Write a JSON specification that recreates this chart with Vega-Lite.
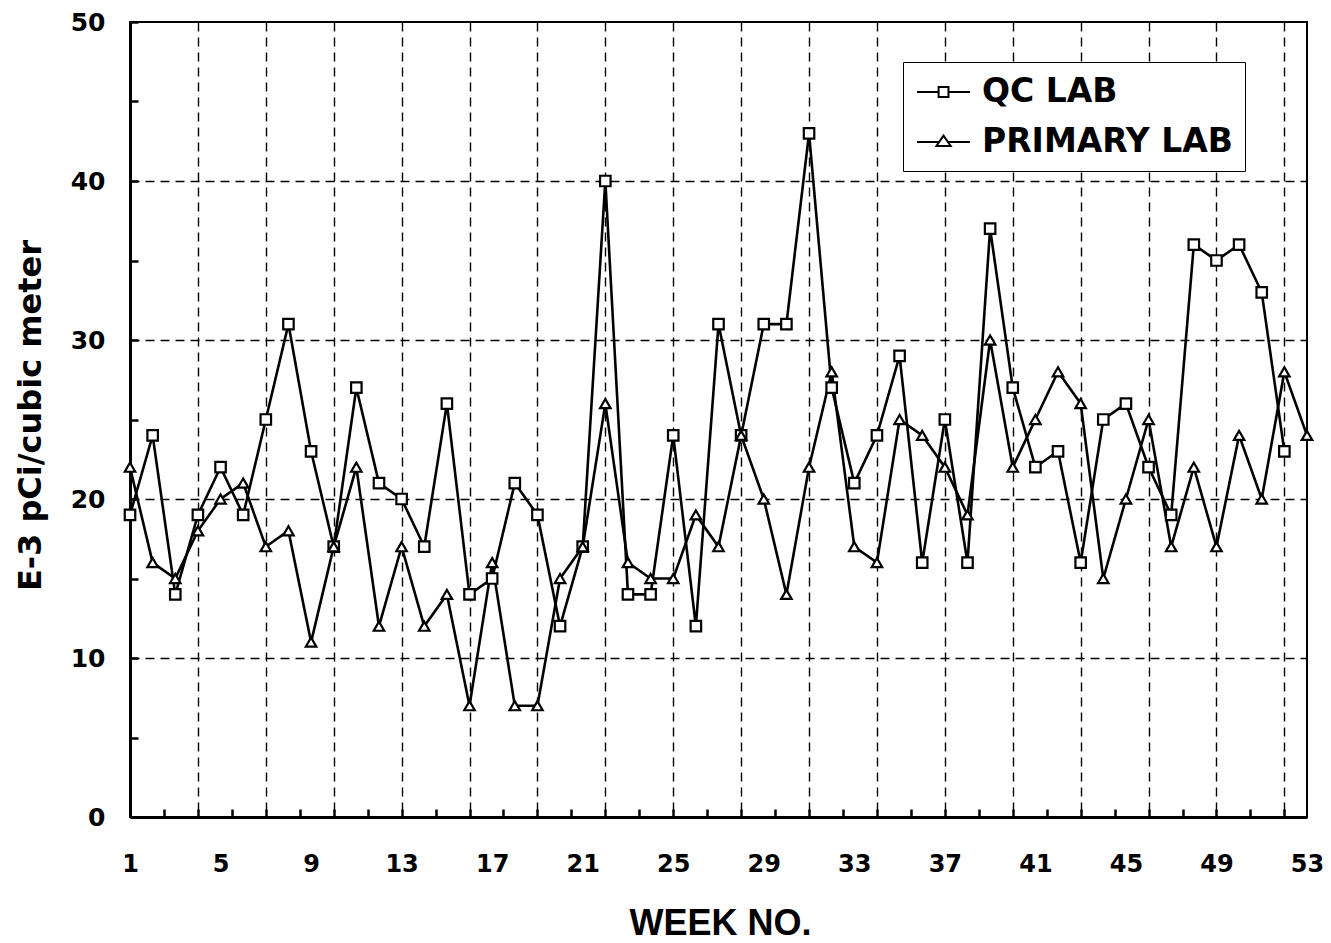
{
  "$schema": "https://vega.github.io/schema/vega-lite/v6.json",
  "width": 1177,
  "height": 795,
  "autosize": "none",
  "padding": {"left": 130, "top": 22, "right": 24, "bottom": 126},
  "background": "white",
  "data": {"values": [
    {"week":1,"lab":"QC LAB","value":19},{"week":2,"lab":"QC LAB","value":24},{"week":3,"lab":"QC LAB","value":14},{"week":4,"lab":"QC LAB","value":19},{"week":5,"lab":"QC LAB","value":22},{"week":6,"lab":"QC LAB","value":19},{"week":7,"lab":"QC LAB","value":25},{"week":8,"lab":"QC LAB","value":31},{"week":9,"lab":"QC LAB","value":23},{"week":10,"lab":"QC LAB","value":17},
    {"week":11,"lab":"QC LAB","value":27},{"week":12,"lab":"QC LAB","value":21},{"week":13,"lab":"QC LAB","value":20},{"week":14,"lab":"QC LAB","value":17},{"week":15,"lab":"QC LAB","value":26},{"week":16,"lab":"QC LAB","value":14},{"week":17,"lab":"QC LAB","value":15},{"week":18,"lab":"QC LAB","value":21},{"week":19,"lab":"QC LAB","value":19},{"week":20,"lab":"QC LAB","value":12},
    {"week":21,"lab":"QC LAB","value":17},{"week":22,"lab":"QC LAB","value":40},{"week":23,"lab":"QC LAB","value":14},{"week":24,"lab":"QC LAB","value":14},{"week":25,"lab":"QC LAB","value":24},{"week":26,"lab":"QC LAB","value":12},{"week":27,"lab":"QC LAB","value":31},{"week":28,"lab":"QC LAB","value":24},{"week":29,"lab":"QC LAB","value":31},{"week":30,"lab":"QC LAB","value":31},
    {"week":31,"lab":"QC LAB","value":43},{"week":32,"lab":"QC LAB","value":27},{"week":33,"lab":"QC LAB","value":21},{"week":34,"lab":"QC LAB","value":24},{"week":35,"lab":"QC LAB","value":29},{"week":36,"lab":"QC LAB","value":16},{"week":37,"lab":"QC LAB","value":25},{"week":38,"lab":"QC LAB","value":16},{"week":39,"lab":"QC LAB","value":37},{"week":40,"lab":"QC LAB","value":27},
    {"week":41,"lab":"QC LAB","value":22},{"week":42,"lab":"QC LAB","value":23},{"week":43,"lab":"QC LAB","value":16},{"week":44,"lab":"QC LAB","value":25},{"week":45,"lab":"QC LAB","value":26},{"week":46,"lab":"QC LAB","value":22},{"week":47,"lab":"QC LAB","value":19},{"week":48,"lab":"QC LAB","value":36},{"week":49,"lab":"QC LAB","value":35},{"week":50,"lab":"QC LAB","value":36},
    {"week":51,"lab":"QC LAB","value":33},{"week":52,"lab":"QC LAB","value":23},
    {"week":1,"lab":"PRIMARY LAB","value":22},{"week":2,"lab":"PRIMARY LAB","value":16},{"week":3,"lab":"PRIMARY LAB","value":15},{"week":4,"lab":"PRIMARY LAB","value":18},{"week":5,"lab":"PRIMARY LAB","value":20},{"week":6,"lab":"PRIMARY LAB","value":21},{"week":7,"lab":"PRIMARY LAB","value":17},{"week":8,"lab":"PRIMARY LAB","value":18},{"week":9,"lab":"PRIMARY LAB","value":11},{"week":10,"lab":"PRIMARY LAB","value":17},
    {"week":11,"lab":"PRIMARY LAB","value":22},{"week":12,"lab":"PRIMARY LAB","value":12},{"week":13,"lab":"PRIMARY LAB","value":17},{"week":14,"lab":"PRIMARY LAB","value":12},{"week":15,"lab":"PRIMARY LAB","value":14},{"week":16,"lab":"PRIMARY LAB","value":7},{"week":17,"lab":"PRIMARY LAB","value":16},{"week":18,"lab":"PRIMARY LAB","value":7},{"week":19,"lab":"PRIMARY LAB","value":7},{"week":20,"lab":"PRIMARY LAB","value":15},
    {"week":21,"lab":"PRIMARY LAB","value":17},{"week":22,"lab":"PRIMARY LAB","value":26},{"week":23,"lab":"PRIMARY LAB","value":16},{"week":24,"lab":"PRIMARY LAB","value":15},{"week":25,"lab":"PRIMARY LAB","value":15},{"week":26,"lab":"PRIMARY LAB","value":19},{"week":27,"lab":"PRIMARY LAB","value":17},{"week":28,"lab":"PRIMARY LAB","value":24},{"week":29,"lab":"PRIMARY LAB","value":20},{"week":30,"lab":"PRIMARY LAB","value":14},
    {"week":31,"lab":"PRIMARY LAB","value":22},{"week":32,"lab":"PRIMARY LAB","value":28},{"week":33,"lab":"PRIMARY LAB","value":17},{"week":34,"lab":"PRIMARY LAB","value":16},{"week":35,"lab":"PRIMARY LAB","value":25},{"week":36,"lab":"PRIMARY LAB","value":24},{"week":37,"lab":"PRIMARY LAB","value":22},{"week":38,"lab":"PRIMARY LAB","value":19},{"week":39,"lab":"PRIMARY LAB","value":30},{"week":40,"lab":"PRIMARY LAB","value":22},
    {"week":41,"lab":"PRIMARY LAB","value":25},{"week":42,"lab":"PRIMARY LAB","value":28},{"week":43,"lab":"PRIMARY LAB","value":26},{"week":44,"lab":"PRIMARY LAB","value":15},{"week":45,"lab":"PRIMARY LAB","value":20},{"week":46,"lab":"PRIMARY LAB","value":25},{"week":47,"lab":"PRIMARY LAB","value":17},{"week":48,"lab":"PRIMARY LAB","value":22},{"week":49,"lab":"PRIMARY LAB","value":17},{"week":50,"lab":"PRIMARY LAB","value":24},
    {"week":51,"lab":"PRIMARY LAB","value":20},{"week":52,"lab":"PRIMARY LAB","value":28},{"week":53,"lab":"PRIMARY LAB","value":24}
  ]},
  "encoding": {
    "x": {
      "field": "week", "type": "quantitative",
      "scale": {"domain": [1, 53], "nice": false, "zero": false},
      "axis": {
        "values": [1,2.5,4,5,5.5,7,8.5,9,10,11.5,13,14.5,16,17,17.5,19,20.5,21,22,23.5,25,26.5,28,29,29.5,31,32.5,33,34,35.5,37,38.5,40,41,41.5,43,44.5,45,46,47.5,49,50.5,52,53],
        "title": "WEEK NO.",
        "titleFont": "Liberation Sans", "titleFontSize": 36, "titleFontWeight": "bold", "titleColor": "black",
        "titleBaseline": "alphabetic", "titleAlign": "center", "titleX": 590, "titleY": 117,
        "labelExpr": "(datum.value - 1) % 4 == 0 ? datum.label : ''",
        "labelFont": "DejaVu Sans", "labelFontWeight": "bold", "labelFontSize": 24, "labelColor": "black",
        "labelBaseline": "top", "labelPadding": 43, "labelOverlap": false, "labelFlush": false, "labelBound": false,
        "tickSize": -8, "tickWidth": 2.5, "tickColor": "black",
        "tickOpacity": {"condition": {"test": "(datum.value - 1) % 1.5 == 0", "value": 1}, "value": 0},
        "grid": true, "gridColor": "black", "gridDash": [9, 6], "gridWidth": 1.4,
        "gridOpacity": {"condition": {"test": "(datum.value - 1) % 3 == 0 && datum.value > 1", "value": 1}, "value": 0},
        "domainColor": "black", "domainWidth": 3
      }
    },
    "y": {
      "field": "value", "type": "quantitative",
      "scale": {"domain": [0, 50], "nice": false},
      "axis": {
        "values": [0,5,10,15,20,25,30,35,40,45,50],
        "title": "E-3 pCi/cubic meter",
        "titleFont": "DejaVu Sans", "titleFontSize": 32, "titleFontWeight": "bold", "titleColor": "black",
        "titleAngle": -90, "titleBaseline": "alphabetic", "titleAlign": "center", "titleX": -90, "titleY": 393,
        "labelExpr": "datum.value % 10 == 0 ? datum.label : ''",
        "labelFont": "DejaVu Sans", "labelFontWeight": "bold", "labelFontSize": 25, "labelColor": "black",
        "labelBaseline": "middle", "labelPadding": 33, "labelOverlap": false, "labelFlush": false, "labelBound": false,
        "tickSize": -8, "tickWidth": 2.5, "tickColor": "black",
        "grid": true, "gridColor": "black", "gridDash": [9, 6], "gridWidth": 1.4,
        "gridOpacity": {"condition": {"test": "datum.value % 10 == 0 && datum.value > 0 && datum.value < 50", "value": 1}, "value": 0},
        "domainColor": "black", "domainWidth": 3
      }
    }
  },
  "layer": [
    {
      "mark": {"type": "line", "color": "black", "strokeWidth": 2.6},
      "encoding": {"detail": {"field": "lab"}}
    },
    {
      "mark": {"type": "point", "filled": false, "color": "black", "strokeWidth": 2, "opacity": 0, "size": 100},
      "encoding": {
        "shape": {
          "field": "lab", "type": "nominal",
          "scale": {"domain": ["QC LAB", "PRIMARY LAB"], "range": ["M-0.94,0H0.33M0.91,0H2.18M0.33,-0.29H0.91V0.29H0.33Z", "M-0.94,0H0.36M0.88,0H2.18M0.62,-0.375L1.04,0.235H0.2Z"]},
          "legend": {
            "title": null, "orient": "none", "legendX": 773, "legendY": 40,
            "strokeColor": "black", "fillColor": "white", "padding": 12,
            "symbolSize": 1156, "symbolStrokeWidth": 2, "symbolStrokeColor": "black", "symbolOpacity": 1,
            "labelFont": "DejaVu Sans", "labelFontWeight": "bold", "labelFontSize": 33, "labelColor": "black",
            "labelOffset": 31, "rowPadding": 15, "labelLimit": 400,
            "encode": {
              "symbols": {"update": {"opacity": {"value": 1}, "stroke": {"value": "black"}, "strokeWidth": {"value": 2}}},
              "legend": {"update": {"strokeWidth": {"value": 2}}}
            }
          }
        }
      }
    },
    {
      "mark": {"type": "point", "filled": true, "fill": "white", "stroke": "black", "strokeWidth": 2.2, "opacity": 1, "size": 110},
      "encoding": {
        "shape": {
          "field": "lab", "type": "nominal",
          "scale": {"domain": ["QC LAB", "PRIMARY LAB"], "range": ["square", "triangle-up"]},
          "legend": null
        }
      }
    }
  ],
  "resolve": {"scale": {"shape": "independent"}},
  "config": {
    "view": {"stroke": "black", "strokeWidth": 2}
  }
}
